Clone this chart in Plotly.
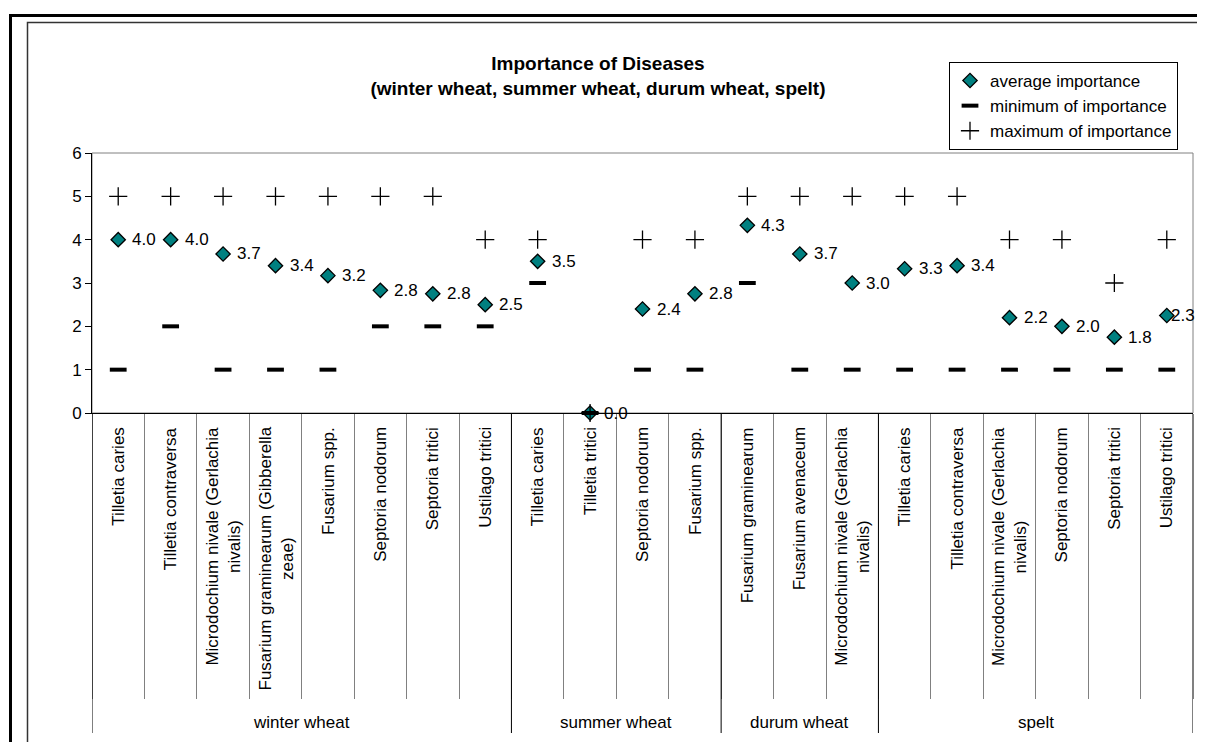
import math
import plotly.graph_objects as go

# ---------------- data ----------------
group_names = ["winter wheat", "summer wheat", "durum wheat", "spelt"]
group_sizes = [8, 4, 3, 6]

disease_names = [
    "Tilletia caries", "Tilletia contraversa", "Microdochium nivale (Gerlachia<br>nivalis)",
    "Fusarium graminearum (Gibberella<br>zeae)", "Fusarium spp.", "Septoria nodorum",
    "Septoria tritici", "Ustilago tritici",
    "Tilletia caries", "Tilletia tritici", "Septoria nodorum", "Fusarium spp.",
    "Fusarium graminearum", "Fusarium avenaceum", "Microdochium nivale (Gerlachia<br>nivalis)",
    "Tilletia caries", "Tilletia contraversa", "Microdochium nivale (Gerlachia<br>nivalis)",
    "Septoria nodorum", "Septoria tritici", "Ustilago tritici",
]

avg_importance = [4.0, 4.0, 3.67, 3.4, 3.17, 2.83, 2.75, 2.5,
                  3.5, 0.0, 2.4, 2.75,
                  4.33, 3.67, 3.0,
                  3.33, 3.4, 2.2, 2.0, 1.75, 2.25]
min_importance = [1, 2, 1, 1, 1, 2, 2, 2,
                  3, 0, 1, 1,
                  3, 1, 1,
                  1, 1, 1, 1, 1, 1]
max_importance = [5, 5, 5, 5, 5, 5, 5, 4,
                  4, 0, 4, 4,
                  5, 5, 5,
                  5, 5, 4, 4, 3, 4]

y_ticks = [0, 1, 2, 3, 4, 5, 6]

# ---------------- layout geometry (page pixels) ----------------
OFF = 8                      # default body margin of the html page
PAGE_W, PAGE_H = 1205, 742
W, H = PAGE_W - OFF, PAGE_H - OFF
PX0, PX1, PY0, PY1 = 92, 1193, 153, 413      # plot area in page pixels
L, T = PX0 - OFF, PY0 - OFF
R, B = W - (PX1 - OFF), H - (PY1 - OFF)
PW, PH = PX1 - PX0, PY1 - PY0


def px_x(p):
    return (p - PX0) / PW


def px_y(p):
    return (PY1 - p) / PH


FONT = "Liberation Sans, Arial, sans-serif"
FS = 17
n = len(disease_names)
xi = list(range(n))


def fmt(v):
    return f"{math.floor(v * 10 + 0.5) / 10:.1f}"


fig = go.Figure()
fig.add_trace(go.Scatter(
    x=xi, y=avg_importance, mode="markers", name="average importance",
    marker=dict(symbol="diamond", size=11, color="#008080",
                line=dict(color="black", width=1.3)),
    cliponaxis=False))
fig.add_trace(go.Scatter(
    x=xi, y=min_importance, mode="markers", name="minimum of importance",
    marker=dict(symbol="line-ew", size=12, color="black",
                line=dict(color="black", width=4)),
    cliponaxis=False))
fig.add_trace(go.Scatter(
    x=xi, y=max_importance, mode="markers", name="maximum of importance",
    marker=dict(symbol="cross-thin", size=13, color="black",
                line=dict(color="black", width=1.3)),
    cliponaxis=False))

annotations = []
# data labels
for i, v in enumerate(avg_importance):
    shift = 12 if i < n - 1 else 2
    annotations.append(dict(x=i, y=v, xref="x", yref="y", text=fmt(v),
                            showarrow=False, xanchor="left", yanchor="middle",
                            xshift=shift, font=dict(family=FONT, size=FS, color="black")))
# category labels
for i, name in enumerate(disease_names):
    annotations.append(dict(x=i, y=px_y(425), xref="x", yref="paper", text=name,
                            showarrow=False, textangle=-90, xanchor="center",
                            yanchor="top", align="center",
                            font=dict(family=FONT, size=FS, color="black")))
# group labels and dividers
shapes = []
start = 0
bounds = [-0.5]
for g, s in zip(group_names, group_sizes):
    annotations.append(dict(x=start + (s - 1) / 2, y=px_y(722), xref="x", yref="paper",
                            text=g, showarrow=False, xanchor="center", yanchor="middle",
                            font=dict(family=FONT, size=FS, color="black")))
    start += s
    bounds.append(start - 0.5)
for b in bounds:
    shapes.append(dict(type="line", xref="x", yref="paper", x0=b, x1=b,
                       y0=0, y1=px_y(733), line=dict(color="black", width=1)))

# plot area border (grey top/right)
shapes.append(dict(type="rect", xref="paper", yref="paper", x0=0, x1=1, y0=0, y1=1,
                   line=dict(color="#808080", width=1), layer="below"))
# outer chart frames
shapes.append(dict(type="path", xref="paper", yref="paper",
                   path=f"M {px_x(10.5)} {px_y(760)} L {px_x(10.5)} {px_y(15.5)} L {px_x(1220)} {px_y(15.5)}",
                   line=dict(color="black", width=3)))
shapes.append(dict(type="path", xref="paper", yref="paper",
                   path=f"M {px_x(27.5)} {px_y(760)} L {px_x(27.5)} {px_y(22.5)} L {px_x(1220)} {px_y(22.5)}",
                   line=dict(color="#333333", width=1.5)))

fig.update_layout(
    width=W, height=H,
    margin=dict(l=L, r=R, t=T, b=B, autoexpand=False),
    paper_bgcolor="white", plot_bgcolor="white",
    font=dict(family=FONT, size=FS, color="black"),
    title=dict(text="<b>Importance of Diseases</b><br><b>(winter wheat, summer wheat, durum wheat, spelt)</b>",
               x=px_x(598), xref="paper", xanchor="center",
               y=1 - (70 - OFF) / H, yref="container", yanchor="middle",
               font=dict(family=FONT, size=19, color="black")),
    showlegend=True,
    legend=dict(x=px_x(1178), xanchor="right", y=px_y(62), yanchor="top",
                bgcolor="white", bordercolor="black", borderwidth=1,
                font=dict(family=FONT, size=FS, color="black"),
                tracegroupgap=0, itemsizing="trace"),
    xaxis=dict(range=[-0.5, n - 0.5], showgrid=False, zeroline=False,
               showline=True, linecolor="black", linewidth=1,
               tickmode="array", tickvals=[k - 0.5 for k in range(n + 1)],
               ticks="outside", ticklen=285, tickcolor="#808080", tickwidth=1,
               showticklabels=False, fixedrange=True),
    yaxis=dict(range=[0, 6], tickmode="array", tickvals=y_ticks, showgrid=False,
               zeroline=False, showline=True, linecolor="black", linewidth=1,
               ticks="outside", ticklen=6, tickcolor="black",
               tickfont=dict(family=FONT, size=FS, color="black")),
    annotations=annotations, shapes=shapes,
)

fig.write_html("out.html")
